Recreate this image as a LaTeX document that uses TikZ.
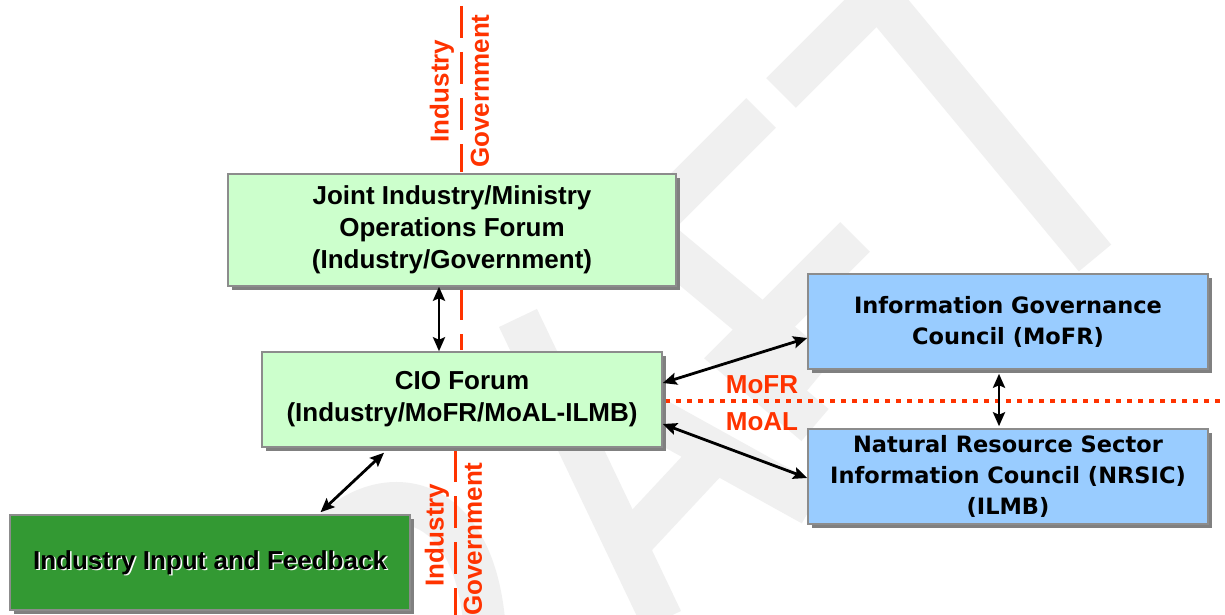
\documentclass[tikz,border=0pt]{standalone}
\usepackage{fontspec}
\setmainfont{Liberation Sans}
\newfontfamily\dejavu{DejaVu Sans}
\usetikzlibrary{shadows,arrows.meta,calc}
\definecolor{lgreen}{HTML}{CCFFCC}
\definecolor{dgreen}{HTML}{339933}
\definecolor{lblue}{HTML}{99CCFF}
\definecolor{redo}{HTML}{FF3300}
\definecolor{shd}{HTML}{808080}
\definecolor{wm}{HTML}{F0F0F0}
\definecolor{bord}{HTML}{8C8C8C}
\tikzset{
  box/.style={draw=bord, line width=1.5pt, inner sep=0pt, align=center,
    font=\fontsize{26}{32}\selectfont\bfseries,
    drop shadow={shadow xshift=4pt, shadow yshift=-4pt, fill=shd, opacity=1}},
  bluebox/.style={box, fill=lblue, minimum width=400pt, minimum height=95pt,
    font=\dejavu\fontsize{22.5}{31}\selectfont\bfseries},
  boxtext/.style={inner sep=0pt, align=center, font=\fontsize{26}{32}\selectfont\bfseries},
  redtxt/.style={inner sep=0pt, text=redo, font=\fontsize{26}{30}\selectfont\bfseries},
  arr/.style={{Stealth[length=14pt,width=12pt,inset=2.5pt]}-{Stealth[length=14pt,width=12pt,inset=2.5pt]}, line width=2.8pt, black},
  wmark/.style={draw=wm, line width=42pt, line cap=butt, line join=miter},
  divider/.style={draw=redo, line width=3pt, dash pattern=on 32pt off 14pt},
  dotline/.style={draw=redo, line width=4pt, dash pattern=on 5pt off 6pt}
}
\begin{document}
\begin{tikzpicture}[x=1pt, y=-1pt]
\useasboundingbox (0,0) rectangle (1225,615);
\fill[white] (0,0) rectangle (1225,615);
% watermark
\draw[wmark] (781,93) -- (878,-4) -- (1095,258);
\draw[wmark] (761,113) -- (645,229) -- (820,375);
\draw[wmark] (855,237) -- (735,357) -- (815,425);
\draw[wmark] (655,418) -- (812,505);
\draw[wmark] (628,545) -- (712,455);
\draw[wmark] (518,318) -- (662,620);
\draw[wmark] (320,545) .. controls (370,480) and (470,480) .. (484,620);
% divider lines
\draw[divider] (461,6) -- (461,172);
\draw[divider] (461,288) -- (461,350);
\draw[divider] (455,450) -- (455,615);
\draw[dotline] (665,401) -- (1225,401);
% boxes
\node[box, fill=lgreen, minimum width=448pt, minimum height=112pt] (joint) at (452,230)
  {Joint Industry/Ministry\\Operations Forum\\(Industry/Government)};
\node[box, fill=lgreen, minimum width=400pt, minimum height=95pt] (cio) at (462,399.5)
  {CIO Forum\\(Industry/MoFR/MoAL-ILMB)};
\node[box, fill=dgreen, minimum width=400pt, minimum height=95pt] (input) at (210,562.5) {};
\node[boxtext, text=white] (inputshade) at ([shift={(1.5pt,-1.5pt)}]input.center) {Industry Input and Feedback};
\node[boxtext] (inputlabel) at (input.center) {Industry Input and Feedback};
\node[bluebox] (info) at (1008,321.5) {Information Governance\\Council (MoFR)};
\node[bluebox] (nrsic) at (1008,476.5) {Natural Resource Sector\\Information Council (NRSIC)\\(ILMB)};
% red labels
\node[redtxt, rotate=90] (ind1) at (442,91) {Industry};
\node[redtxt, rotate=90] (gov1) at (480,91) {Government};
\node[redtxt, rotate=90] (ind2) at (437,535) {Industry};
\node[redtxt, rotate=90] (gov2) at (473,539) {Government};
\node[redtxt, anchor=base] (mofr) at (762,393) {MoFR};
\node[redtxt, anchor=base] (moal) at (762,430) {MoAL};
% connectors
\draw[arr] ([xshift=-13pt]joint.south) -- ([xshift=-23pt]cio.north);
\draw[arr] ([yshift=16.5pt]cio.east) -- ([yshift=-16.5pt]info.west);
\draw[arr] ([yshift=-24.5pt]cio.east) -- ([yshift=-1.5pt]nrsic.west);
\draw[arr] ([xshift=-9pt,yshift=-4pt]info.south) -- ([xshift=-9pt,yshift=2pt]nrsic.north);
\draw[arr] ([xshift=-78pt,yshift=-5pt]cio.south) -- ([xshift=110.5pt,yshift=2pt]input.north);
\end{tikzpicture}
\end{document}
